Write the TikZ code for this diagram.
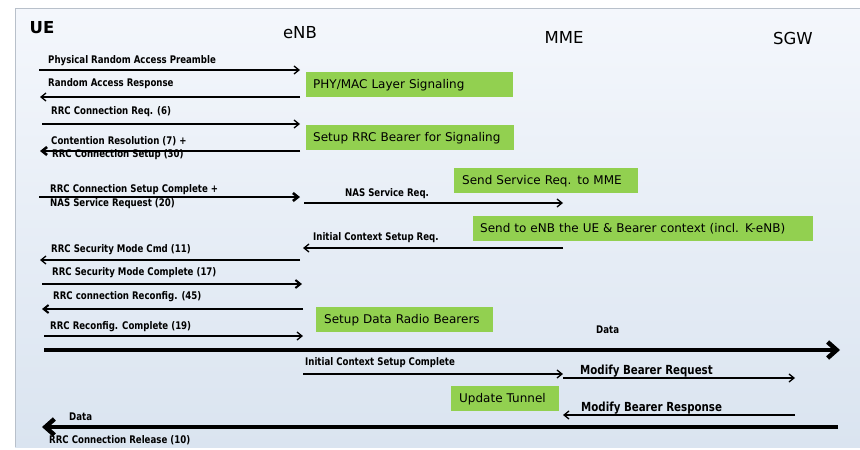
\documentclass[tikz,border=0pt]{standalone}
\usepackage{fontspec}
\setmainfont{DejaVu Sans}
\newfontfamily\msgfont[FakeStretch=0.82]{DejaVu Sans}
\usetikzlibrary{arrows.meta}

\definecolor{boxgreen}{HTML}{92D050}
\definecolor{paneltop}{HTML}{F4F7FC}
\definecolor{panelbot}{HTML}{DAE4F0}
\definecolor{panelrule}{HTML}{B8C0CA}

\tikzset{
  hdr/.style={font=\fontsize{16.5}{17}\selectfont, inner sep=0pt},
  lbl/.style={font=\msgfont\bfseries\fontsize{10.5}{11}\selectfont, anchor=west, inner sep=0pt},
  biglbl/.style={font=\msgfont\bfseries\fontsize{12.5}{13}\selectfont, anchor=west, inner sep=0pt},
  note/.style={fill=boxgreen, font=\fontsize{12}{12}\selectfont, anchor=north west,
    inner xsep=7pt, inner ysep=0pt, minimum height=25pt, align=left},
  sigthin/.style={line width=1.3pt, -{Straight Barb[length=5pt,width=8pt]}},
  sigmid/.style={line width=2pt, -{Straight Barb[length=5pt,width=8pt]}},
  sigthick/.style={line width=2.6pt, -{Straight Barb[length=5pt,width=8pt]}},
  dataflow/.style={line width=4.5pt, -{Straight Barb[length=9pt,width=16pt]}},
}

% one message line between two named end points
\newcommand\sigmsg[5]{%
  \coordinate (#1-from) at (#2,#4);
  \coordinate (#1-to) at (#3,#4);
  \draw[#5] (#1-from) -- (#1-to);}

\begin{document}
\begin{tikzpicture}[x=1pt,y=-1pt]
\useasboundingbox (0,0) rectangle (860,450);
\fill[white] (0,0) rectangle (860,450);

% panel
\shade[top color=paneltop, bottom color=panelbot] (15,8) rectangle (860,447);
\draw[panelrule, line width=1pt] (15,447) -- (15,8) -- (860,8);

% entities
\node[hdr, font=\bfseries\fontsize{16.5}{17}\selectfont] (ue) at (42,28) {UE};
\node[hdr] (enb) at (300,33) {eNB};
\node[hdr] (mme) at (564,37) {MME};
\node[hdr] (sgw) at (793,38) {SGW};

% green annotation boxes
\node[note, text width=193pt] (phy) at (306,72)  {PHY/MAC Layer Signaling};
\node[note, text width=194pt] (rrcb) at (306,125) {Setup RRC Bearer for Signaling};
\node[note, text width=168pt, inner xsep=8pt] (srv) at (454,168) {Send Service Req. to MME};
\node[note, text width=326pt] (ctx) at (473,216) {Send to eNB the UE \& Bearer context (incl. K-eNB)};
\node[note, text width=161pt, inner xsep=8pt] (drb) at (316,307) {Setup Data Radio Bearers};
\node[note, text width=92pt, inner xsep=8pt] (tun) at (451,386) {Update Tunnel};

% message labels
\node[lbl] (t1)  at (48,61)  {Physical Random Access Preamble};
\node[lbl] (t2)  at (48,84)  {Random Access Response};
\node[lbl] (t3)  at (51,112) {RRC Connection Req. (6)};
\node[lbl] (t4a) at (51,141) {Contention Resolution (7) +};
\node[lbl] (t4b) at (52,155) {RRC Connection Setup (30)};
\node[lbl] (t5a) at (50,190) {RRC Connection Setup Complete +};
\node[lbl] (t5b) at (50,204) {NAS Service Request (20)};
\node[lbl] (t6)  at (345,194) {NAS Service Req.};
\node[lbl] (t7)  at (313,238) {Initial Context Setup Req.};
\node[lbl] (t8)  at (51,250) {RRC Security Mode Cmd (11)};
\node[lbl] (t9)  at (52,273) {RRC Security Mode Complete (17)};
\node[lbl] (t10) at (53,297) {RRC connection Reconfig. (45)};
\node[lbl] (t11) at (50,327) {RRC Reconfig. Complete (19)};
\node[lbl] (t12) at (596,330) {Data};
\node[lbl] (t13) at (305,363) {Initial Context Setup Complete};
\node[biglbl] (t14) at (580,371) {Modify Bearer Request};
\node[biglbl] (t15) at (581,408) {Modify Bearer Response};
\node[lbl] (t16) at (69,417) {Data};
\node[lbl] (t17) at (49,440) {RRC Connection Release (10)};

% message lines
\sigmsg{m1}{39}{300}{70}{sigthin}
\sigmsg{m2}{300}{40}{97}{sigthin}
\sigmsg{m3}{42}{300}{124}{sigthin}
\sigmsg{m4}{300}{40}{151}{sigthick}
\sigmsg{m5}{39}{300}{197}{sigthick}
\sigmsg{m6}{304}{563}{203}{sigthin}
\sigmsg{m7}{563}{303}{248}{sigthin}
\sigmsg{m8}{300}{40}{260}{sigthin}
\sigmsg{m9}{42}{302}{284}{sigmid}
\sigmsg{m10}{303}{42}{309}{sigmid}
\sigmsg{m11}{44}{303}{336}{sigthin}
\sigmsg{d1}{44}{840}{350}{dataflow}
\sigmsg{m13}{303}{563}{374}{sigthin}
\sigmsg{m14}{563}{795}{378}{sigthin}
\sigmsg{m15}{795}{563}{415}{sigthin}
\sigmsg{d2}{838}{42}{427}{dataflow}
\end{tikzpicture}
\end{document}
